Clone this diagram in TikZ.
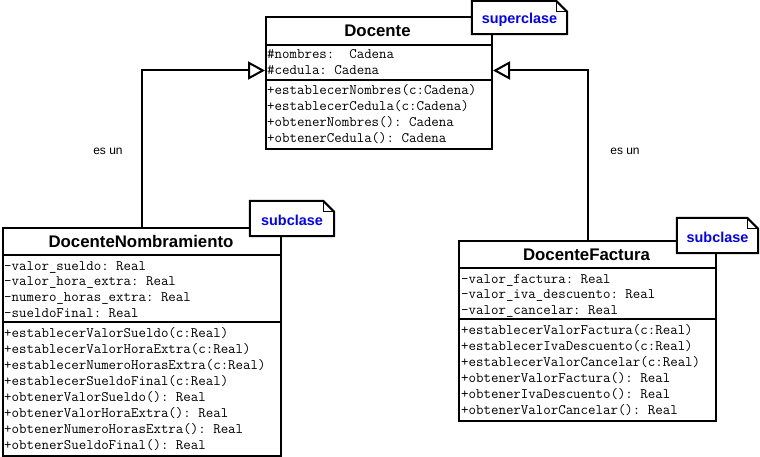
\documentclass[tikz,border=0pt]{standalone}
\usepackage{fontspec}
\setmainfont{Liberation Sans}
\setmonofont{Latin Modern Mono}
\usetikzlibrary{arrows.meta}

\tikzset{
  classbox/.style={draw=black, fill=white, line width=2pt, anchor=north west, inner sep=0pt},
  classtitle/.style={anchor=base, inner sep=0pt, font=\fontsize{16.8}{20}\selectfont\bfseries},
  member/.style={anchor=base west, inner sep=0pt, text height=9pt, text depth=0pt,
                 font=\fontsize{14.5}{16}\selectfont\ttfamily},
  divider/.style={line width=2pt},
  notebox/.style={fill=white, inner sep=0pt, text=blue,
                  font=\fontsize{14.4}{17}\selectfont\bfseries},
  noteline/.style={line width=2pt, line join=miter},
  foldline/.style={line width=1pt},
  gen/.style={line width=2pt, -{Triangle[open, length=17pt, width=18pt]}},
  relname/.style={inner sep=0pt, font=\fontsize{12}{14}\selectfont},
}

\begin{document}
\begin{tikzpicture}[x=1pt, y=-1pt]
\useasboundingbox[fill=white] (0,0) rectangle (760,457);

% ---------- Docente ----------
\node[classbox, minimum width=226pt, minimum height=132pt] (doc) at (265,16) {};
\node[classtitle] (docT) at (377.5,37) {Docente};
\draw[divider] (265,45) -- (491,45);
\draw[divider] (265,80) -- (491,80);
\foreach \t [count=\k from 0] in {\#nombres:\ \ Cadena, \#cedula: Cadena}
  \node[member] (docA-\k) at (267,59+16*\k) {\t};
\foreach \t [count=\k from 0] in {+establecerNombres(c:Cadena), +establecerCedula(c:Cadena),
    +obtenerNombres(): Cadena, +obtenerCedula(): Cadena}
  \node[member] (docM-\k) at (267,95+16*\k) {\t};

% ---------- DocenteNombramiento ----------
\node[classbox, minimum width=278pt, minimum height=228pt] (nom) at (2,227) {};
\node[classtitle] (nomT) at (141,247) {DocenteNombramiento};
\draw[divider] (2,255) -- (280,255);
\draw[divider] (2,322) -- (280,322);
\foreach \t [count=\k from 0] in {-valor\_sueldo: Real, -valor\_hora\_extra: Real,
    -numero\_horas\_extra: Real, -sueldoFinal: Real}
  \node[member] (nomA-\k) at (4,270+15.7*\k) {\t};
\foreach \t [count=\k from 0] in {+establecerValorSueldo(c:Real), +establecerValorHoraExtra(c:Real),
    +establecerNumeroHorasExtra(c:Real), +establecerSueldoFinal(c:Real),
    +obtenerValorSueldo(): Real, +obtenerValorHoraExtra(): Real,
    +obtenerNumeroHorasExtra(): Real, +obtenerSueldoFinal(): Real}
  \node[member] (nomM-\k) at (4,337+16*\k) {\t};

% ---------- DocenteFactura ----------
\node[classbox, minimum width=257pt, minimum height=180pt] (fac) at (458,240) {};
\node[classtitle] (facT) at (586.5,260) {DocenteFactura};
\draw[divider] (458,268) -- (715,268);
\draw[divider] (458,319) -- (715,319);
\foreach \t [count=\k from 0] in {-valor\_factura: Real, -valor\_iva\_descuento: Real,
    -valor\_cancelar: Real}
  \node[member] (facA-\k) at (461,283+15.7*\k) {\t};
\foreach \t [count=\k from 0] in {+establecerValorFactura(c:Real), +establecerIvaDescuento(c:Real),
    +establecerValorCancelar(c:Real), +obtenerValorFactura(): Real,
    +obtenerIvaDescuento(): Real, +obtenerValorCancelar(): Real}
  \node[member] (facM-\k) at (461,334+16*\k) {\t};

% ---------- generalisation connectors ----------
\draw[gen] (nom.north) |- (doc.west |- docA-1);
\draw[gen] (fac.north) |- (doc.east |- docA-1);
\node[relname] (isaL) at (108,151) {es un};
\node[relname] (isaR) at (625,151) {es un};

% ---------- notes ----------
\foreach \n/\cx/\cy/\w/\h/\txt in {supN/519.5/17.5/95/33/superclase,
                                   subN/292/218.5/84/35/subclase,
                                   subF/717.5/235.5/81/35/subclase} {
  \node[notebox, minimum width=\w pt, minimum height=\h pt] (\n) at (\cx,\cy) {};
  \draw[noteline] (\n.north west) -- ([xshift=-11pt]\n.north east)
     -- ([yshift=-11pt]\n.north east) -- (\n.south east) -- (\n.south west) -- cycle;
  \draw[foldline] ([xshift=-11pt]\n.north east) |- ([yshift=-11pt]\n.north east);
  \node[notebox, fill=none, yshift=-2pt] (\n-t) at (\n) {\txt};
}
\end{tikzpicture}
\end{document}
